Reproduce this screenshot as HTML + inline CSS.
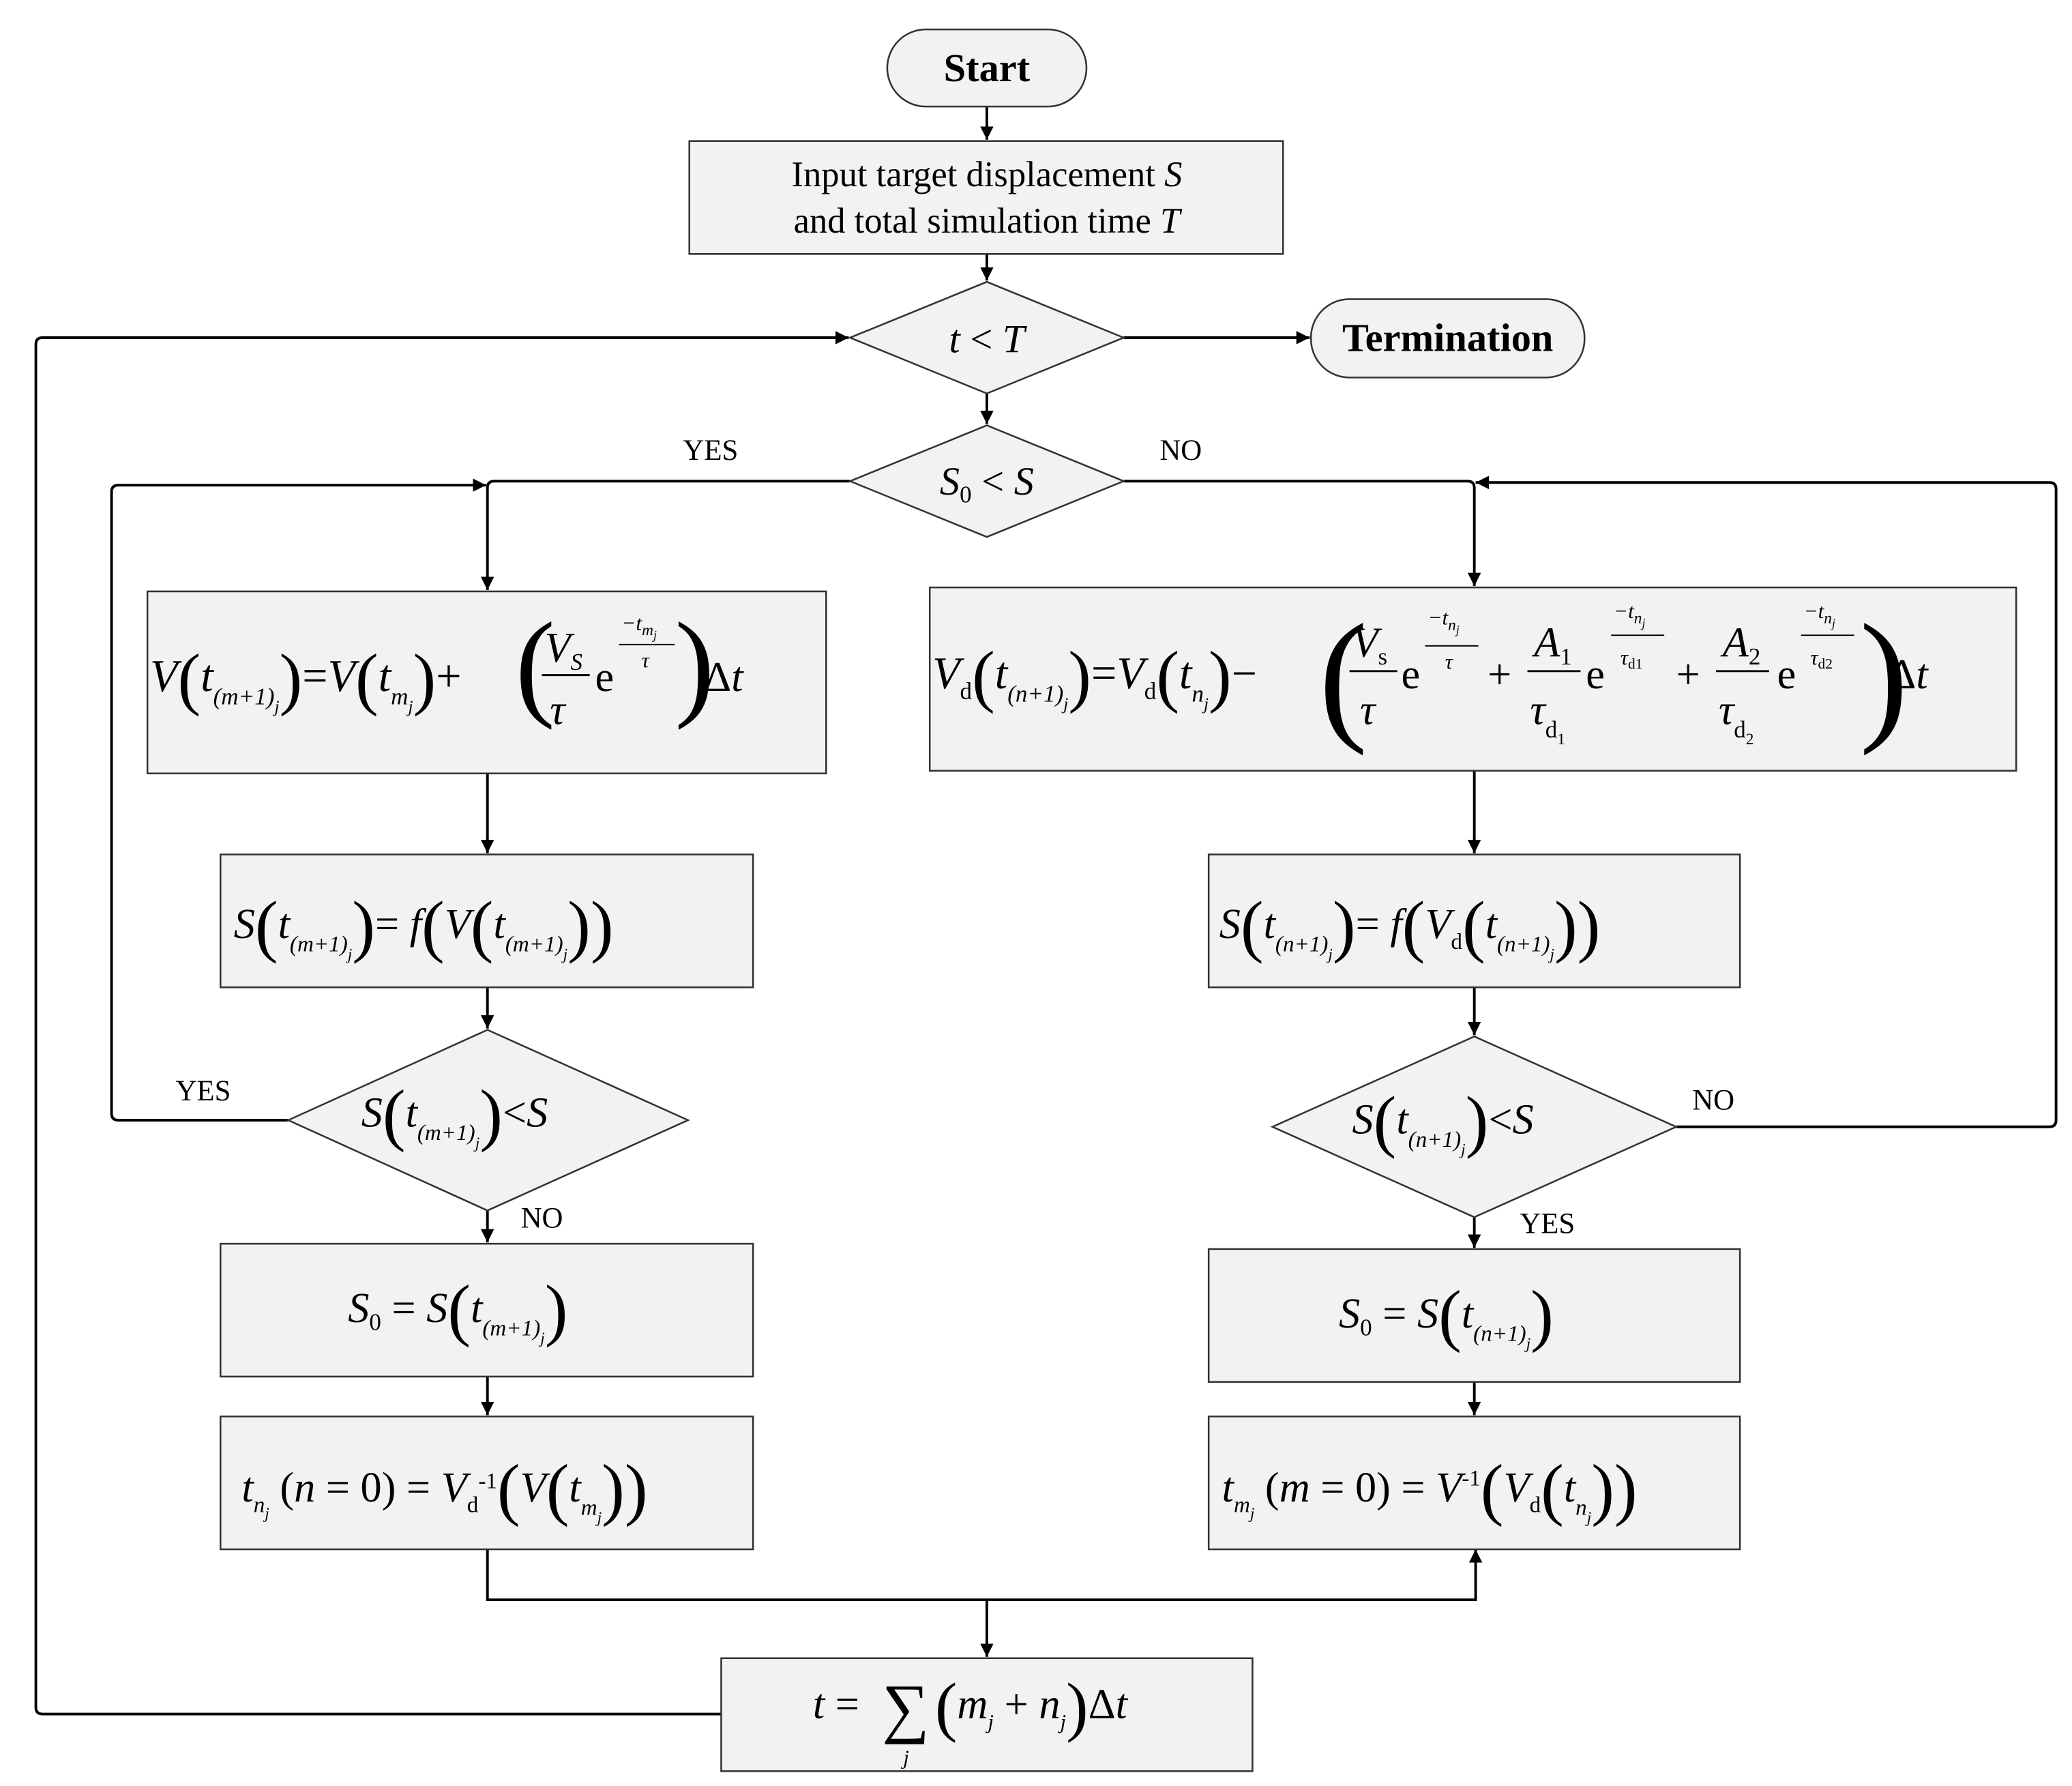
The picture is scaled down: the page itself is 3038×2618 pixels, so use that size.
<!DOCTYPE html>
<html><head><meta charset="utf-8"><style>
html,body{margin:0;padding:0;background:#fff}
svg{display:block}
text{font-family:"Liberation Serif","DejaVu Serif",serif;fill:#000}
.i{font-style:italic}
.b{fill:#f2f2f2;stroke:#333;stroke-width:1.3}
.l{fill:none;stroke:#000;stroke-width:2}
</style></head><body>
<svg width="3038" height="2618" viewBox="0 0 1560 1344" xmlns="http://www.w3.org/2000/svg">
<defs><marker id="a" viewBox="0 0 10 10" refX="10" refY="5" markerWidth="5" markerHeight="5" orient="auto"><path d="M0,0L10,5L0,10z" fill="#000"/></marker></defs>

<!-- connectors -->
<g class="l" marker-end="url(#a)">
<path class="l" d="M743,80V105" marker-end="url(#a)"/>
<path class="l" d="M743,191V211" marker-end="url(#a)"/>
<path class="l" d="M846,254H986" marker-end="url(#a)"/>
<path class="l" d="M543,1290H32Q27,1290 27,1285V259Q27,254 32,254H639" marker-end="url(#a)"/>
<path class="l" d="M743,296V319" marker-end="url(#a)"/>
<path class="l" d="M640,362H372Q367,362 367,367V444" marker-end="url(#a)"/>
<path class="l" d="M846,362H1105Q1110,362 1110,367V441" marker-end="url(#a)"/>
<path class="l" d="M367,582V642" marker-end="url(#a)"/>
<path class="l" d="M1110,580V642" marker-end="url(#a)"/>
<path class="l" d="M367,743V774" marker-end="url(#a)"/>
<path class="l" d="M1110,743V779" marker-end="url(#a)"/>
<path class="l" d="M217,843H89Q84,843 84,838V370Q84,365 89,365H366" marker-end="url(#a)"/>
<path class="l" d="M1262,848H1543Q1548,848 1548,843V368Q1548,363 1543,363H1111" marker-end="url(#a)"/>
<path class="l" d="M367,911V935" marker-end="url(#a)"/>
<path class="l" d="M1110,916V939" marker-end="url(#a)"/>
<path class="l" d="M367,1036V1065" marker-end="url(#a)"/>
<path class="l" d="M1110,1040V1065" marker-end="url(#a)"/>
<path class="l" d="M367,1166V1204H1111V1166"/>
<path class="l" d="M743,1204V1247" marker-end="url(#a)"/>
</g>

<!-- shapes -->
<rect class="b" x="668" y="22" width="150" height="58" rx="29"/>
<text x="743" y="61" font-size="30" font-weight="bold" text-anchor="middle">Start</text>
<rect class="b" x="519" y="106" width="447" height="85"/>
<text x="743" y="140" font-size="27" text-anchor="middle">Input target displacement <tspan class="i">S</tspan></text>
<text x="743" y="175" font-size="27" text-anchor="middle">and total simulation time <tspan class="i">T</tspan></text>

<polygon class="b" points="640,254 743,212 846,254 743,296"/>
<text x="743" y="265" font-size="30" text-anchor="middle"><tspan class="i">t</tspan> &lt; <tspan class="i">T</tspan></text>
<rect class="b" x="987" y="225" width="206" height="59" rx="29"/>
<text x="1090" y="264" font-size="30" font-weight="bold" text-anchor="middle">Termination</text>

<polygon class="b" points="640,362 743,320 846,362 743,404"/>
<text x="743" y="372" font-size="30" text-anchor="middle"><tspan class="i">S</tspan><tspan font-size="18" dy="6">0</tspan><tspan dy="-6"> &lt; </tspan><tspan class="i">S</tspan></text>
<text x="535" y="346" font-size="22" text-anchor="middle">YES</text>
<text x="889" y="346" font-size="22" text-anchor="middle">NO</text>

<!-- left formula box -->
<rect class="b" x="111" y="445" width="511" height="137"/>
<text x="113" y="520" font-size="34"><tspan class="i">V</tspan><tspan font-size="52" dy="8">(</tspan><tspan class="i" dy="-8">t</tspan><tspan font-size="18" class="i" dy="10">(m+1)</tspan><tspan font-size="13" class="i" dy="6">j</tspan><tspan font-size="52" dy="-8">)</tspan><tspan dy="-8">=</tspan><tspan class="i">V</tspan><tspan font-size="52" dy="8">(</tspan><tspan class="i" dy="-8">t</tspan><tspan font-size="18" class="i" dy="10">m</tspan><tspan font-size="13" class="i" dy="6">j</tspan><tspan font-size="52" dy="-8">)</tspan><tspan dy="-8">+</tspan></text>
<text x="388" y="530" font-size="90" transform="scale(1,1)">(</text>
<text x="410" y="498" font-size="32" class="i">V<tspan font-size="18" dy="6">S</tspan></text>
<line x1="408" y1="508" x2="444" y2="508" stroke="#000" stroke-width="1.5"/>
<text x="414" y="545" font-size="32" class="i">τ</text>
<text x="448" y="520" font-size="32">e</text>
<text x="468" y="474" font-size="16" class="i">−t<tspan font-size="12" dy="4">m</tspan><tspan font-size="9" dy="3">j</tspan></text>
<line x1="466" y1="485" x2="508" y2="485" stroke="#000" stroke-width="1"/>
<text x="483" y="502" font-size="16" class="i">τ</text>
<text x="508" y="530" font-size="90">)</text>
<text x="530" y="520" font-size="32">Δ<tspan class="i">t</tspan></text>

<!-- right formula box -->
<rect class="b" x="700" y="442" width="818" height="138"/>
<text x="702" y="518" font-size="34"><tspan class="i">V</tspan><tspan font-size="18" dy="8">d</tspan><tspan font-size="52" dy="0">(</tspan><tspan class="i" dy="-8">t</tspan><tspan font-size="18" class="i" dy="10">(n+1)</tspan><tspan font-size="13" class="i" dy="6">j</tspan><tspan font-size="52" dy="-8">)</tspan><tspan dy="-8">=</tspan><tspan class="i">V</tspan><tspan font-size="18" dy="8">d</tspan><tspan font-size="52" dy="0">(</tspan><tspan class="i" dy="-8">t</tspan><tspan font-size="18" class="i" dy="10">n</tspan><tspan font-size="13" class="i" dy="6">j</tspan><tspan font-size="52" dy="-8">)</tspan><tspan dy="-8">−</tspan></text>
<text x="993" y="545" font-size="110">(</text>
<text x="1018" y="494" font-size="32" class="i">V<tspan font-size="18" dy="6" font-style="normal">s</tspan></text>
<line x1="1016" y1="505" x2="1052" y2="505" stroke="#000" stroke-width="1.5"/>
<text x="1024" y="545" font-size="32" class="i">τ</text>
<text x="1055" y="518" font-size="32">e</text>
<text x="1075" y="470" font-size="16" class="i">−t<tspan font-size="12" dy="4">n</tspan><tspan font-size="9" dy="3">j</tspan></text>
<line x1="1073" y1="486" x2="1113" y2="486" stroke="#000" stroke-width="1"/>
<text x="1088" y="503" font-size="16" class="i">τ</text>
<text x="1120" y="518" font-size="32">+</text>
<text x="1155" y="494" font-size="32" class="i">A<tspan font-size="18" dy="6" font-style="normal">1</tspan></text>
<line x1="1150" y1="505" x2="1190" y2="505" stroke="#000" stroke-width="1.5"/>
<text x="1152" y="545" font-size="32" class="i">τ<tspan font-size="18" dy="10" font-style="normal">d<tspan font-size="12" dy="5">1</tspan></tspan></text>
<text x="1194" y="518" font-size="32">e</text>
<text x="1215" y="465" font-size="16" class="i">−t<tspan font-size="12" dy="4">n</tspan><tspan font-size="9" dy="3">j</tspan></text>
<line x1="1213" y1="478" x2="1253" y2="478" stroke="#000" stroke-width="1"/>
<text x="1220" y="500" font-size="16" class="i">τ<tspan font-size="11" dy="3" font-style="normal">d1</tspan></text>
<text x="1262" y="518" font-size="32">+</text>
<text x="1297" y="494" font-size="32" class="i">A<tspan font-size="18" dy="6" font-style="normal">2</tspan></text>
<line x1="1292" y1="505" x2="1332" y2="505" stroke="#000" stroke-width="1.5"/>
<text x="1294" y="545" font-size="32" class="i">τ<tspan font-size="18" dy="10" font-style="normal">d<tspan font-size="12" dy="5">2</tspan></tspan></text>
<text x="1338" y="518" font-size="32">e</text>
<text x="1358" y="465" font-size="16" class="i">−t<tspan font-size="12" dy="4">n</tspan><tspan font-size="9" dy="3">j</tspan></text>
<line x1="1356" y1="478" x2="1396" y2="478" stroke="#000" stroke-width="1"/>
<text x="1363" y="500" font-size="16" class="i">τ<tspan font-size="11" dy="3" font-style="normal">d2</tspan></text>
<text x="1400" y="545" font-size="110">)</text>
<text x="1422" y="518" font-size="32">Δ<tspan class="i">t</tspan></text>

<!-- S boxes -->
<rect class="b" x="166" y="643" width="401" height="100"/>
<text x="176" y="706" font-size="32"><tspan class="i">S</tspan><tspan font-size="52" dy="8">(</tspan><tspan class="i" dy="-8">t</tspan><tspan font-size="17" class="i" dy="10">(m+1)</tspan><tspan font-size="12" class="i" dy="6">j</tspan><tspan font-size="52" dy="-8">)</tspan><tspan dy="-8">= </tspan><tspan class="i">f</tspan><tspan font-size="52" dy="8">(</tspan><tspan class="i" dy="-8">V</tspan><tspan font-size="52" dy="8">(</tspan><tspan class="i" dy="-8">t</tspan><tspan font-size="17" class="i" dy="10">(m+1)</tspan><tspan font-size="12" class="i" dy="6">j</tspan><tspan font-size="52" dy="-8">))</tspan></text>
<rect class="b" x="910" y="643" width="400" height="100"/>
<text x="918" y="706" font-size="32"><tspan class="i">S</tspan><tspan font-size="52" dy="8">(</tspan><tspan class="i" dy="-8">t</tspan><tspan font-size="17" class="i" dy="10">(n+1)</tspan><tspan font-size="12" class="i" dy="6">j</tspan><tspan font-size="52" dy="-8">)</tspan><tspan dy="-8">= </tspan><tspan class="i">f</tspan><tspan font-size="52" dy="8">(</tspan><tspan class="i" dy="-8">V</tspan><tspan font-size="17" dy="8">d</tspan><tspan font-size="52">(</tspan><tspan class="i" dy="-8">t</tspan><tspan font-size="17" class="i" dy="10">(n+1)</tspan><tspan font-size="12" class="i" dy="6">j</tspan><tspan font-size="52" dy="-8">))</tspan></text>

<!-- decision diamonds -->
<polygon class="b" points="217,843 367,775 518,843 367,911"/>
<text x="272" y="848" font-size="32"><tspan class="i">S</tspan><tspan font-size="52" dy="8">(</tspan><tspan class="i" dy="-8">t</tspan><tspan font-size="17" class="i" dy="10">(m+1)</tspan><tspan font-size="12" class="i" dy="6">j</tspan><tspan font-size="52" dy="-8">)</tspan><tspan dy="-8">&lt;</tspan><tspan class="i">S</tspan></text>
<text x="153" y="828" font-size="22" text-anchor="middle">YES</text>
<text x="408" y="924" font-size="22" text-anchor="middle">NO</text>
<polygon class="b" points="958,848 1110,780 1262,848 1110,916"/>
<text x="1018" y="853" font-size="32"><tspan class="i">S</tspan><tspan font-size="52" dy="8">(</tspan><tspan class="i" dy="-8">t</tspan><tspan font-size="17" class="i" dy="10">(n+1)</tspan><tspan font-size="12" class="i" dy="6">j</tspan><tspan font-size="52" dy="-8">)</tspan><tspan dy="-8">&lt;</tspan><tspan class="i">S</tspan></text>
<text x="1290" y="835" font-size="22" text-anchor="middle">NO</text>
<text x="1165" y="928" font-size="22" text-anchor="middle">YES</text>

<!-- S0 boxes -->
<rect class="b" x="166" y="936" width="401" height="100"/>
<text x="262" y="995" font-size="32"><tspan class="i">S</tspan><tspan font-size="18" dy="6">0</tspan><tspan dy="-6"> = </tspan><tspan class="i">S</tspan><tspan font-size="52" dy="8">(</tspan><tspan class="i" dy="-8">t</tspan><tspan font-size="17" class="i" dy="10">(m+1)</tspan><tspan font-size="12" class="i" dy="6">j</tspan><tspan font-size="52" dy="-8">)</tspan></text>
<rect class="b" x="910" y="940" width="400" height="100"/>
<text x="1008" y="999" font-size="32"><tspan class="i">S</tspan><tspan font-size="18" dy="6">0</tspan><tspan dy="-6"> = </tspan><tspan class="i">S</tspan><tspan font-size="52" dy="8">(</tspan><tspan class="i" dy="-8">t</tspan><tspan font-size="17" class="i" dy="10">(n+1)</tspan><tspan font-size="12" class="i" dy="6">j</tspan><tspan font-size="52" dy="-8">)</tspan></text>

<!-- t boxes -->
<rect class="b" x="166" y="1066" width="401" height="100"/>
<text x="182" y="1130" font-size="32"><tspan class="i">t</tspan><tspan font-size="17" class="i" dy="8">n</tspan><tspan font-size="12" class="i" dy="5">j</tspan><tspan dy="-13"> (</tspan><tspan class="i">n</tspan> = 0) = <tspan class="i">V</tspan><tspan font-size="17" dy="8">d</tspan><tspan font-size="17" dy="-18">-1</tspan><tspan font-size="52" dy="18">(</tspan><tspan class="i" dy="-8">V</tspan><tspan font-size="52" dy="8">(</tspan><tspan class="i" dy="-8">t</tspan><tspan font-size="17" class="i" dy="10">m</tspan><tspan font-size="12" class="i" dy="6">j</tspan><tspan font-size="52" dy="-8">))</tspan></text>
<rect class="b" x="910" y="1066" width="400" height="100"/>
<text x="920" y="1130" font-size="32"><tspan class="i">t</tspan><tspan font-size="17" class="i" dy="8">m</tspan><tspan font-size="12" class="i" dy="5">j</tspan><tspan dy="-13"> (</tspan><tspan class="i">m</tspan> = 0) = <tspan class="i">V</tspan><tspan font-size="17" dy="-12">-1</tspan><tspan font-size="52" dy="20">(</tspan><tspan class="i" dy="-8">V</tspan><tspan font-size="17" dy="8">d</tspan><tspan font-size="52">(</tspan><tspan class="i" dy="-8">t</tspan><tspan font-size="17" class="i" dy="10">n</tspan><tspan font-size="12" class="i" dy="6">j</tspan><tspan font-size="52" dy="-8">))</tspan></text>

<!-- bottom box -->
<rect class="b" x="543" y="1248" width="400" height="85"/>
<text x="612" y="1293" font-size="32"><tspan class="i">t</tspan> = </text>
<text x="664" y="1302" font-size="50">∑</text>
<text x="680" y="1328" font-size="16" class="i">j</text>
<text x="704" y="1293" font-size="32"><tspan font-size="50" dy="8">(</tspan><tspan class="i" dy="-8">m</tspan><tspan font-size="16" class="i" dy="8">j</tspan><tspan dy="-8"> + </tspan><tspan class="i">n</tspan><tspan font-size="16" class="i" dy="8">j</tspan><tspan font-size="50" dy="0">)</tspan><tspan dy="-8">Δ</tspan><tspan class="i">t</tspan></text>
</svg>
</body></html>
